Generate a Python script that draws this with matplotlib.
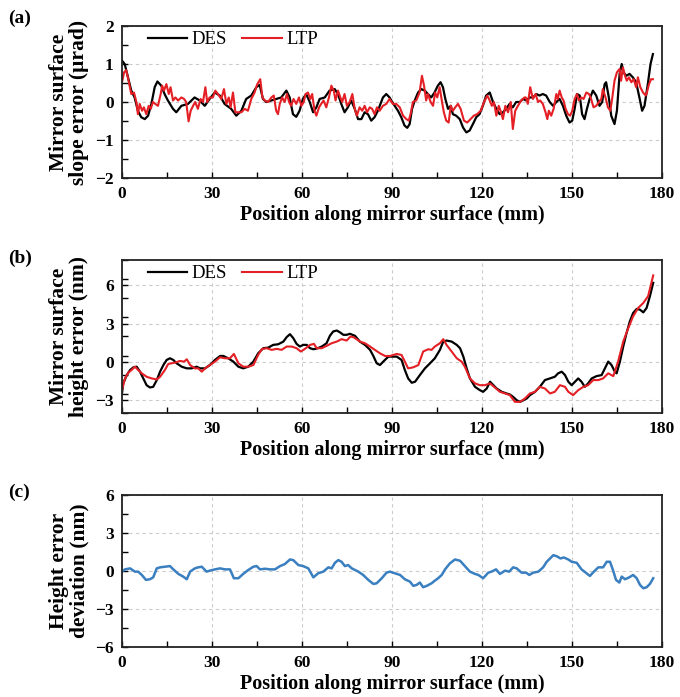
import matplotlib.pyplot as plt
import numpy as np

plt.rcParams['font.family'] = ['Liberation Serif', 'DejaVu Serif']

# (a) Mirror surface slope error (urad)
des_a_x = [0, 0.9, 2.0, 3.1, 4.2, 5.3, 6.4, 7.6, 8.7, 9.8, 10.9, 11.8, 13.1, 14.2, 15.3, 17.0, 18.1, 19.8,
           22.0, 24.2, 25.9, 27.6, 29.2, 30.9, 32.6, 34.2, 36.4, 38.1, 39.8, 41.4, 43.1, 44.8, 45.9, 47.0,
           48.1, 49.8, 51.4, 53.1, 54.8, 55.9, 57.0, 58.1, 59.2, 60.3, 61.4, 62.6, 63.7, 64.8, 65.9, 67.6,
           69.2, 70.9, 72.0, 73.1, 74.2, 75.3, 76.4, 77.6, 78.7, 79.8, 80.9, 82.0, 83.1, 84.2, 85.3, 87.0,
           88.1, 89.2, 89.8, 90.9, 92.0, 93.1, 94.2, 95.1, 95.9, 96.7, 97.6, 98.7, 99.8, 100.9, 102.0,
           103.1, 104.2, 105.3, 106.2, 107.0, 107.8, 108.7, 109.6, 110.3, 111.4, 112.6, 113.7, 114.8,
           115.9, 117.0, 118.1, 119.2, 120.3, 121.4, 122.6, 123.7, 124.8, 125.9, 127.0, 128.1, 129.2,
           130.3, 131.4, 132.6, 133.7, 134.8, 135.9, 137.0, 138.1, 139.2, 140.3, 141.4, 142.6, 143.7,
           144.8, 145.9, 147.0, 148.1, 149.2, 150.1, 150.9, 151.7, 152.6, 153.4, 154.2, 155.0, 155.9,
           157.0, 158.1, 159.2, 160.1, 160.9, 161.4, 162.3, 163.1, 164.2, 165.0, 165.9, 166.6, 167.2,
           168.1, 169.2, 170.3, 171.4, 172.6, 173.4, 174.2, 175.3, 176.2, 177.0]
des_a_y = [1.09, 1.0, 0.65, 0.3, 0.12, -0.23, -0.4, -0.45, -0.36, -0.05, 0.39, 0.54, 0.43, 0.21, 0.04, -0.18,
           -0.27, -0.1, -0.05, 0.12, 0.04, -0.1, 0.08, 0.25, 0.17, -0.05, -0.18, -0.36, -0.23, 0.08, 0.17,
           0.39, 0.45, 0.08, 0.0, 0.04, 0.08, 0.12, 0.3, 0.12, -0.32, -0.39, -0.23, 0.08, 0.21, 0.0, -0.27,
           -0.14, 0.08, 0.12, 0.3, 0.34, 0.21, -0.05, -0.27, -0.14, 0.04, -0.18, -0.45, -0.45, -0.27, -0.32,
           -0.49, -0.4, -0.23, 0.12, 0.21, 0.12, 0.04, -0.1, -0.23, -0.4, -0.62, -0.68, -0.58, -0.18, 0.04,
           0.25, 0.34, 0.3, 0.21, 0.12, 0.25, 0.43, 0.52, 0.39, 0.08, -0.18, -0.1, -0.32, -0.36, -0.45, -0.67,
           -0.8, -0.75, -0.58, -0.4, -0.32, -0.1, 0.17, 0.25, 0.0, -0.18, -0.32, -0.27, -0.18, -0.05, -0.14,
           0.0, 0.0, 0.08, 0.04, 0.12, 0.12, 0.21, 0.17, 0.21, 0.17, 0.0, -0.1, 0.0, 0.08, -0.1, -0.36, -0.54,
           -0.49, -0.18, 0.21, 0.17, -0.32, -0.45, -0.18, 0.08, 0.3, 0.17, -0.1, 0.0, 0.47, 0.52, 0.12, -0.36,
           -0.58, -0.23, 0.74, 1.0, 0.78, 0.69, 0.74, 0.65, 0.52, 0.08, -0.23, -0.1, 0.47, 1.0, 1.26]
ltp_a_x = [0.0, 0.7, 1.4, 2.2, 3.1, 4.0, 4.8, 5.3, 5.9, 6.7, 7.3, 8.1, 8.9, 9.6, 10.3, 11.1, 12.0, 12.9, 13.4,
           14.0, 14.8, 15.6, 16.2, 17.0, 17.8, 18.7, 19.8, 20.7, 21.4, 22.2, 22.9, 23.7, 24.4, 25.3, 26.2,
           27.0, 27.8, 28.4, 29.2, 30.3, 31.1, 32.0, 33.1, 34.0, 34.8, 35.6, 36.2, 37.0, 37.8, 38.7, 39.8,
           40.9, 42.0, 43.1, 44.2, 45.1, 46.1, 46.8, 47.6, 48.7, 49.8, 50.6, 51.4, 52.0, 52.6, 53.4, 54.2,
           55.0, 55.7, 56.4, 57.2, 58.1, 59.0, 59.8, 60.6, 61.2, 62.0, 62.8, 63.4, 64.2, 64.8, 65.7, 66.4,
           67.2, 68.1, 69.0, 69.8, 70.6, 71.2, 72.0, 72.8, 73.4, 74.2, 75.0, 75.9, 76.8, 77.6, 78.3, 79.2,
           80.1, 80.9, 81.7, 82.6, 83.4, 84.2, 85.0, 85.9, 87.0, 88.1, 89.2, 90.3, 91.4, 92.6, 93.7, 94.8,
           95.6, 96.2, 97.0, 98.1, 99.2, 100.0, 100.7, 101.4, 102.0, 102.9, 103.7, 104.4, 105.1, 105.9,
           106.7, 107.3, 108.1, 108.9, 109.6, 110.3, 111.1, 112.0, 112.9, 114.0, 115.1, 116.2, 117.3,
           118.4, 119.6, 120.7, 121.8, 122.6, 123.3, 124.0, 124.8, 125.6, 126.2, 127.0, 127.8, 128.7,
           129.6, 130.3, 131.1, 132.0, 133.1, 134.2, 134.6, 135.3, 136.1, 137.0, 137.9, 138.7, 139.4,
           140.3, 141.2, 141.8, 142.3, 143.1, 143.9, 144.8, 145.3, 145.9, 146.6, 147.2, 147.9, 148.7,
           149.4, 150.1, 150.9, 151.7, 152.3, 153.1, 153.9, 154.8, 155.7, 156.4, 157.2, 158.1, 159.0,
           159.8, 160.3, 161.2, 162.0, 162.8, 163.4, 164.2, 165.0, 165.9, 166.4, 167.0, 167.7, 168.3,
           169.0, 169.8, 170.6, 171.4, 172.0, 172.8, 173.7, 174.6, 175.0, 175.7, 176.4, 177.0]
ltp_a_y = [0.52, 0.78, 0.84, 0.56, 0.21, 0.25, 0.0, -0.32, -0.05, -0.23, -0.14, -0.32, -0.1, -0.18, 0.0, -0.05,
           -0.1, 0.21, 0.43, 0.3, 0.47, 0.21, 0.39, 0.04, 0.12, 0.04, 0.12, 0.08, 0.0, -0.51, -0.23, -0.1, 0.0,
           -0.18, 0.08, 0.0, 0.39, 0.0, 0.12, 0.12, 0.3, 0.21, 0.08, 0.34, -0.05, 0.12, -0.14, 0.25, -0.27,
           -0.27, -0.27, -0.18, -0.23, 0.08, 0.25, 0.47, 0.6, 0.12, 0.04, 0.0, 0.12, 0.17, -0.23, -0.32, -0.05,
           0.12, 0.0, 0.21, 0.0, -0.1, 0.08, -0.05, 0.12, -0.1, 0.0, 0.21, 0.25, 0.08, 0.21, -0.23, -0.36,
           -0.14, -0.05, 0.04, -0.14, 0.12, 0.43, 0.3, 0.04, 0.3, 0.12, 0.0, 0.21, -0.1, 0.0, 0.21, -0.18,
           -0.36, -0.14, -0.23, -0.1, -0.27, -0.14, -0.18, -0.32, -0.14, -0.23, -0.1, -0.05, 0.08, -0.05,
           -0.05, -0.14, -0.36, -0.45, -0.49, -0.32, 0.0, 0.04, 0.25, 0.69, 0.43, 0.04, 0.21, 0.0, -0.1, 0.25,
           0.12, 0.39, 0.0, -0.27, -0.49, -0.54, -0.1, -0.23, -0.14, -0.05, -0.18, -0.49, -0.54, -0.45, -0.36,
           -0.32, -0.23, 0.0, 0.17, 0.04, -0.1, 0.0, -0.36, -0.1, -0.23, -0.45, -0.1, -0.27, 0.0, -0.71, -0.23,
           -0.1, 0.04, 0.12, 0.12, -0.05, 0.39, 0.08, 0.21, 0.0, 0.04, -0.05, -0.27, -0.45, -0.23, -0.36,
           -0.18, 0.21, 0.08, 0.3, 0.12, 0.04, -0.18, -0.32, -0.36, -0.23, 0.08, 0.21, 0.04, 0.12, 0.08, 0.25,
           0.21, 0.08, -0.14, -0.1, 0.0, 0.08, 0.34, 0.12, -0.14, -0.23, 0.08, 0.56, 0.78, 0.87, 0.56, 0.91,
           0.69, 0.56, 0.65, 0.52, 0.6, 0.39, 0.65, 0.39, 0.25, 0.17, 0.25, 0.47, 0.6, 0.6]

# (b) Mirror surface height error (nm)
des_b_x = [0, 0.4, 1.6, 2.7, 3.8, 4.9, 6.0, 7.1, 8.2, 9.3, 10.4, 11.6, 12.7, 13.8, 14.9, 16.0, 17.1, 18.2,
           19.9, 21.6, 23.2, 24.9, 26.0, 27.7, 29.3, 31.0, 32.7, 33.8, 35.4, 37.1, 38.8, 40.4, 42.1, 43.8,
           45.4, 47.1, 48.8, 50.4, 52.1, 53.8, 54.9, 56.0, 57.1, 58.2, 59.3, 60.4, 61.6, 62.7, 63.8, 64.9,
           66.6, 68.2, 69.3, 70.4, 71.6, 72.7, 73.8, 74.9, 76.0, 77.7, 79.3, 81.0, 82.7, 83.8, 84.9, 86.0,
           87.1, 88.8, 89.3, 91.6, 93.2, 94.3, 95.4, 96.6, 97.7, 99.3, 101.0, 102.7, 104.3, 106.0, 107.1,
           108.2, 109.9, 111.6, 112.7, 113.8, 114.9, 116.0, 117.7, 119.3, 120.4, 121.6, 122.7, 123.8,
           124.9, 126.6, 128.2, 129.3, 130.4, 131.6, 132.7, 133.8, 134.9, 136.0, 137.7, 139.3, 141.0,
           142.7, 144.3, 145.4, 146.6, 147.7, 148.8, 149.9, 151.0, 152.1, 153.2, 154.3, 155.4, 156.6,
           158.2, 159.9, 161.0, 162.1, 163.2, 164.3, 164.9, 166.0, 167.1, 168.2, 169.3, 170.4, 171.6,
           172.7, 173.8, 174.9, 176.0, 177.1]
des_b_y = [-2.47, -1.68, -1.03, -0.63, -0.42, -0.37, -0.76, -1.29, -1.82, -2.0, -1.95, -1.42, -0.76, -0.24,
           0.16, 0.29, 0.16, -0.1, -0.37, -0.5, -0.5, -0.37, -0.5, -0.5, -0.24, 0.16, 0.47, 0.47, 0.29, 0.03,
           -0.37, -0.5, -0.37, 0.03, 0.68, 1.08, 1.13, 1.34, 1.39, 1.6, 1.95, 2.18, 1.87, 1.42, 1.21, 1.34,
           1.34, 1.08, 1.0, 1.05, 1.21, 1.47, 2.05, 2.39, 2.47, 2.32, 2.13, 2.13, 2.21, 2.05, 1.6, 1.34, 0.95,
           0.47, -0.1, -0.24, 0.03, 0.42, 0.42, 0.42, 0.16, -0.63, -1.29, -1.63, -1.55, -1.03, -0.5, -0.1, 0.29,
           0.95, 1.6, 1.68, 1.6, 1.34, 1.08, 0.42, -0.5, -1.29, -1.95, -2.21, -2.34, -2.08, -1.55, -1.82,
           -2.08, -2.34, -2.47, -2.55, -2.74, -3.0, -3.13, -3.0, -2.87, -2.6, -2.34, -1.95, -1.42, -1.29,
           -1.16, -0.89, -0.76, -1.03, -1.55, -1.82, -1.55, -1.29, -1.55, -1.95, -1.68, -1.29, -1.11, -1.03,
           -0.5, 0.03, -0.24, -0.76, -0.89, 0.03, 1.21, 2.26, 3.18, 3.84, 4.16, 4.1, 3.89, 4.24, 5.16, 6.21]
ltp_b_x = [0, 1.0, 2.1, 3.2, 4.3, 5.4, 6.6, 8.2, 9.9, 11.6, 12.7, 14.3, 15.4, 16.6, 17.7, 19.3, 20.7, 21.6,
           22.7, 24.3, 25.4, 26.6, 27.7, 29.3, 31.0, 32.7, 34.3, 36.0, 37.3, 38.8, 40.4, 42.1, 43.8, 45.4,
           46.6, 48.2, 49.9, 51.6, 53.2, 54.9, 56.6, 58.2, 59.6, 61.0, 62.7, 64.0, 64.9, 66.6, 68.2, 69.9,
           71.6, 73.2, 74.9, 76.2, 77.1, 78.2, 79.3, 81.0, 82.7, 84.3, 86.0, 87.7, 89.3, 91.6, 93.2, 94.3,
           95.4, 97.1, 98.8, 100.4, 102.1, 103.2, 104.3, 106.0, 107.1, 108.2, 109.9, 111.6, 113.2, 114.3,
           116.0, 117.7, 119.3, 121.0, 122.7, 124.3, 126.0, 127.7, 129.3, 131.0, 132.7, 134.3, 136.0,
           137.7, 139.3, 141.0, 142.7, 144.3, 146.0, 147.7, 148.8, 150.4, 152.1, 153.8, 155.4, 157.1,
           158.8, 160.4, 162.1, 163.8, 165.4, 167.1, 168.8, 170.4, 172.1, 173.8, 175.4, 177.1]
ltp_b_y = [-2.2, -1.29, -0.84, -0.63, -0.37, -0.63, -0.89, -1.16, -1.29, -1.37, -1.16, -0.63, -0.16, -0.1,
           -0.05, 0.08, 0.03, 0.21, -0.24, -0.5, -0.5, -0.76, -0.5, -0.24, 0.03, 0.37, 0.29, 0.29, 0.63, -0.1,
           -0.37, -0.37, -0.24, 0.55, 1.0, 1.08, 0.95, 1.03, 0.95, 1.21, 1.21, 1.08, 0.82, 1.03, 1.34, 1.42,
           1.08, 1.08, 1.26, 1.47, 1.6, 1.79, 1.68, 2.0, 1.95, 1.79, 1.6, 1.47, 1.21, 0.95, 0.68, 0.47, 0.47,
           0.63, 0.55, 0.03, -0.5, -0.42, -0.24, 0.82, 1.0, 0.95, 1.21, 1.47, 1.79, 1.34, 0.82, 0.29, 0.03,
           -0.37, -1.29, -1.68, -1.82, -1.82, -1.68, -2.0, -2.34, -2.47, -2.6, -3.13, -3.13, -2.87, -2.47,
           -2.34, -1.95, -2.08, -2.47, -2.34, -1.82, -1.95, -2.34, -2.6, -2.21, -1.95, -1.82, -1.42, -1.42,
           -1.29, -0.89, -1.11, 0.03, 1.6, 2.66, 3.58, 4.24, 4.63, 5.16, 6.79]

# (c) Height error deviation (nm)
dev_x = [0, 1.0, 2.7, 4.3, 5.4, 6.6, 8.0, 9.3, 10.4, 11.6, 12.7, 14.3, 16.0, 17.1, 18.8, 20.4, 21.6, 22.7,
         24.3, 25.4, 26.6, 28.2, 29.3, 31.0, 32.7, 34.3, 36.0, 37.3, 38.8, 40.4, 42.1, 43.8, 44.9, 46.0,
         47.7, 49.3, 51.0, 52.7, 54.3, 56.0, 57.1, 58.8, 60.4, 62.1, 63.8, 65.4, 67.1, 68.8, 69.9, 71.0,
         72.1, 73.2, 74.3, 75.4, 76.6, 77.7, 78.8, 80.4, 82.1, 83.8, 84.9, 86.6, 88.2, 89.3, 91.0, 92.7,
         94.3, 96.0, 97.1, 98.2, 99.3, 100.4, 101.6, 103.2, 104.3, 105.4, 106.6, 107.7, 109.3, 111.0,
         112.7, 114.3, 116.0, 117.7, 118.8, 120.4, 122.1, 123.2, 124.7, 126.0, 127.7, 129.1, 130.4,
         131.6, 133.2, 134.7, 135.8, 137.1, 138.8, 140.4, 141.6, 142.7, 143.8, 144.9, 146.2, 147.3,
         148.8, 149.9, 151.6, 153.2, 154.9, 156.0, 157.3, 158.8, 160.4, 161.6, 162.7, 163.6, 164.7,
         165.8, 166.6, 167.7, 169.1, 170.4, 171.6, 172.7, 173.8, 174.9, 176.0, 177.1]
dev_y = [-0.05, 0.13, 0.21, -0.05, -0.05, -0.31, -0.7, -0.65, -0.5, 0.21, 0.29, 0.34, 0.39, 0.13, -0.23,
         -0.44, -0.65, -0.05, 0.21, 0.29, 0.34, -0.05, 0.03, 0.13, 0.21, 0.13, 0.13, -0.57, -0.57, -0.23, 0.08,
         0.34, 0.39, 0.13, 0.18, 0.13, 0.13, 0.39, 0.55, 0.91, 0.86, 0.47, 0.39, 0.21, -0.5, -0.18, -0.05,
         0.29, 0.21, 0.65, 0.86, 0.73, 0.39, 0.47, 0.21, 0.08, -0.05, -0.31, -0.7, -1.02, -0.97, -0.57, -0.13,
         -0.05, -0.18, -0.31, -0.65, -0.84, -1.17, -1.1, -0.91, -1.28, -1.17, -0.97, -0.76, -0.57, -0.31,
         0.13, 0.6, 0.91, 0.81, 0.39, -0.05, -0.23, -0.31, -0.57, -0.13, -0.05, 0.13, -0.23, 0.03, -0.05,
         0.29, 0.21, -0.13, -0.13, -0.31, -0.13, -0.05, 0.29, 0.73, 0.99, 1.25, 1.17, 0.99, 1.07, 0.91, 0.73,
         0.65, 0.13, -0.18, -0.39, -0.05, 0.29, 0.29, 0.73, 0.73, 0.13, -0.7, -0.91, -0.44, -0.65, -0.5,
         -0.31, -0.57, -1.1, -1.36, -1.28, -1.02, -0.57]

xlabel = 'Position along mirror surface (mm)'
black = '#000000'
red = '#e41f25'
blue = '#3a7fc0'

fig = plt.figure(figsize=(6.8, 6.97), dpi=100)
ax_a = fig.add_axes([0.1794, 0.7446, 0.794, 0.2181])
ax_b = fig.add_axes([0.1794, 0.4075, 0.794, 0.2195])
ax_c = fig.add_axes([0.1794, 0.0717, 0.794, 0.2181])


def style(ax, ylim, yticks, ylabel):
    ax.set_xlim(0, 180)
    ax.set_ylim(*ylim)
    ax.set_xticks(np.arange(0, 181, 30))
    ax.set_xticks(np.arange(15, 180, 30), minor=True)
    ax.set_yticks(yticks)
    step = yticks[1] - yticks[0]
    ax.set_yticks(np.arange(ylim[0], ylim[1] + 0.01, step / 2), minor=True)
    ax.tick_params(which='both', direction='in', length=4.5, width=1.0, top=False, right=False,
                   labelsize=12.5, pad=6)
    for lab in ax.get_xticklabels() + ax.get_yticklabels():
        lab.set_fontweight('bold')
    ax.grid(True, which='major', ls=(0, (3, 3)), color='#cccccc', lw=0.8)
    for s in ax.spines.values():
        s.set_linewidth(1.3)
        s.set_color('#222222')
    ax.set_xlabel(xlabel, fontsize=14.5, fontweight='bold', labelpad=2)
    ax.set_ylabel(ylabel, fontsize=15.5, fontweight='bold', labelpad=4, linespacing=1.05)


ax_a.plot(des_a_x, des_a_y, color=black, lw=1.6, label='DES')
ax_a.plot(ltp_a_x, ltp_a_y, color=red, lw=1.5, label='LTP')
style(ax_a, (-2, 2), [-2, -1, 0, 1, 2], 'Mirror surface\nslope error (μrad)')

ax_b.plot(des_b_x, des_b_y, color=black, lw=1.6, label='DES')
ax_b.plot(ltp_b_x, ltp_b_y, color=red, lw=1.5, label='LTP')
style(ax_b, (-4, 8), [-3, 0, 3, 6], 'Mirror surface\nheight error (nm)')

ax_c.plot(dev_x, dev_y, color=blue, lw=1.8)
style(ax_c, (-6, 6), [-6, -3, 0, 3, 6], 'Height error\ndeviation (nm)')

for ax in (ax_a, ax_b):
    ax.legend(loc='upper left', bbox_to_anchor=(0.02, 1.065), ncol=2, frameon=False, fontsize=13.5,
              handlelength=2.1, handletextpad=0.25, columnspacing=0.8, borderpad=0.3)

fig.text(0.012, 0.973, '(a)', fontsize=14, fontweight='bold', va='center')
fig.text(0.012, 0.630, '(b)', fontsize=14, fontweight='bold', va='center')
fig.text(0.012, 0.294, '(c)', fontsize=14, fontweight='bold', va='center')

fig.savefig('out.png', dpi=100)
